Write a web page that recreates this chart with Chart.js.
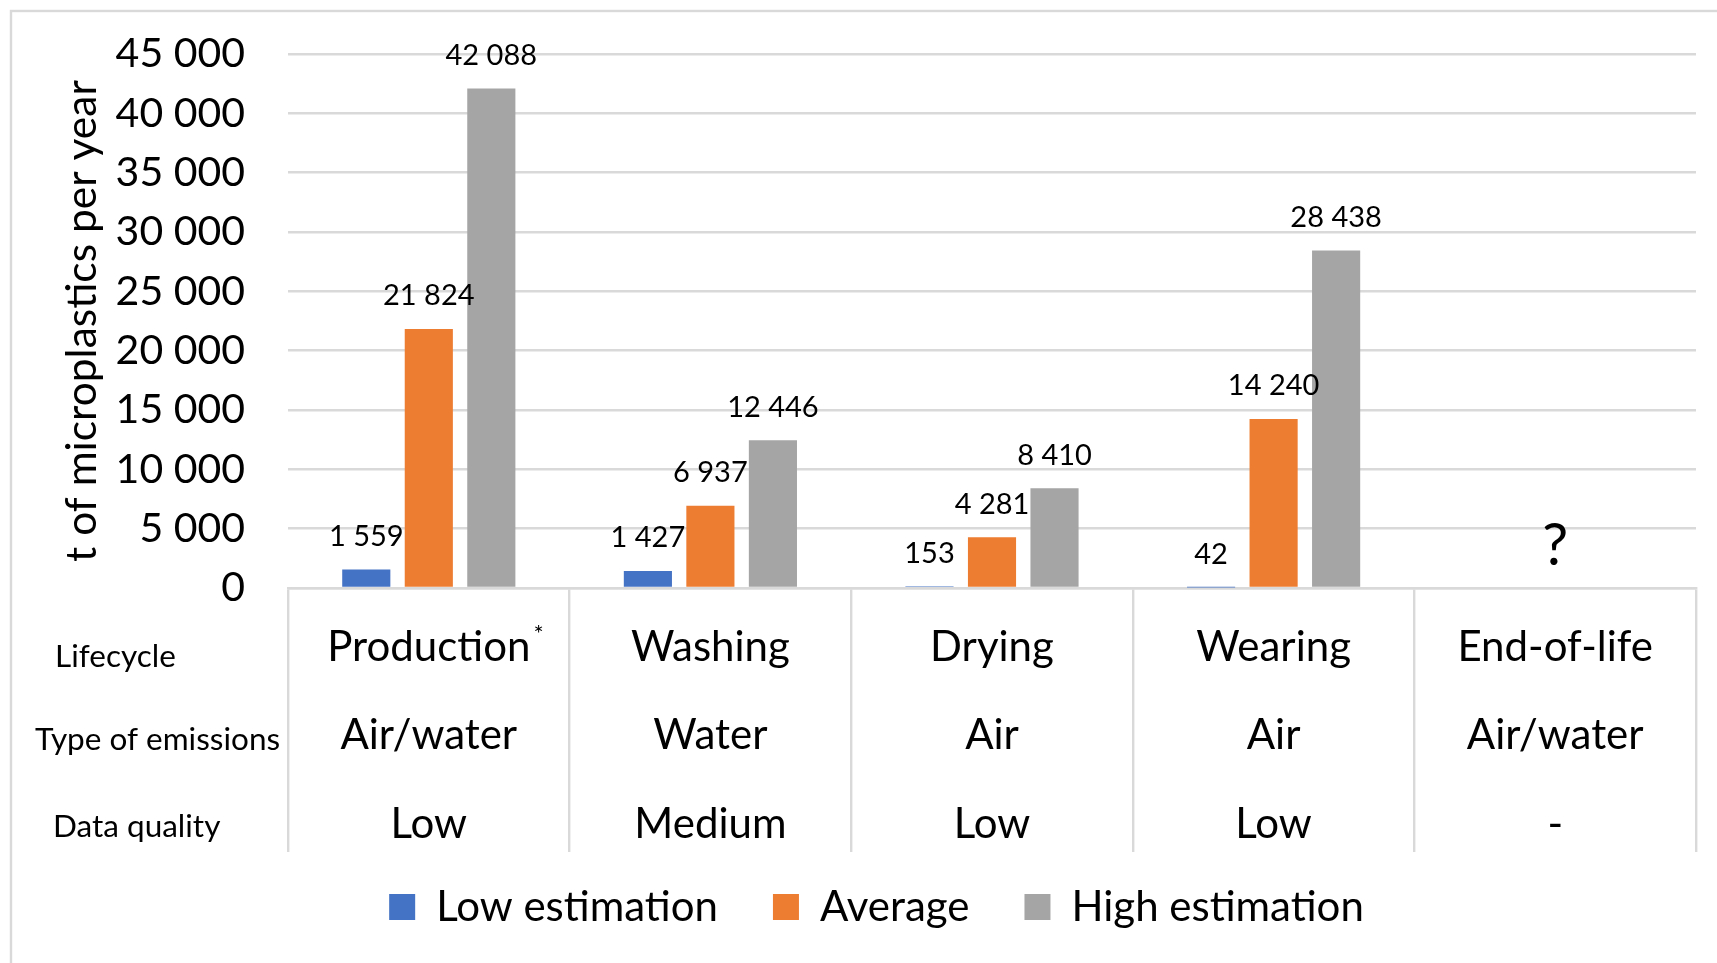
<!DOCTYPE html>
<html>
<head>
<meta charset="utf-8">
<script src="https://cdn.jsdelivr.net/npm/chart.js@4/dist/chart.umd.min.js"></script>
<style>
  html, body { margin: 0; padding: 0; background: #ffffff; }
  #wrap { width: 1717px; height: 963px; position: relative; }
</style>
</head>
<body>
<div id="wrap"><canvas id="chart" width="1717" height="963"></canvas></div>
<script>
// Lifecycle stages and their table rows
const lifecycle = ['Production', 'Washing', 'Drying', 'Wearing', 'End-of-life'];
const emissionType = ['Air/water', 'Water', 'Air', 'Air', 'Air/water'];
const dataQuality = ['Low', 'Medium', 'Low', 'Low', '-'];
const rowHeaders = ['Lifecycle', 'Type of emissions', 'Data quality'];
const footnoted = ['Production'];

// Emissions, t of microplastics per year (null = unknown)
const lowEstimation = [1559, 1427, 153, 42, null];
const average = [21824, 6937, 4281, 14240, null];
const highEstimation = [42088, 12446, 8410, 28438, null];

const seriesNames = ['Low estimation', 'Average', 'High estimation'];
const yTicks = [0, 5000, 10000, 15000, 20000, 25000, 30000, 35000, 40000, 45000];

const FONT = 'Lato, "Open Sans", sans-serif';
const GRID = '#d9d9d9';
const TABLE_DEPTH = 264;   // height of the category table under the axis
const ROW_STEP = 88.3;     // spacing of table rows
const LABEL_SIZE = 42;

const fmt = v => String(v).replace(/\B(?=(\d{3})+(?!\d))/g, ' ');

// light frame around the whole figure
const framePlugin = {
  id: 'frame',
  beforeDraw(chart) {
    const ctx = chart.ctx;
    ctx.save();
    ctx.fillStyle = '#ffffff';
    ctx.fillRect(0, 0, chart.width, chart.height);
    ctx.strokeStyle = GRID;
    ctx.lineWidth = 2.4;
    ctx.strokeRect(11, 11, chart.width + 20, chart.height + 20);
    ctx.restore();
  }
};

// pull the legend row up closer to the table
const legendNudge = {
  id: 'legendNudge',
  afterLayout(chart) {
    if (chart.legend) {
      chart.legend.top -= 15;
      chart.legend.bottom -= 15;
    }
  }
};

// value labels above bars, and "?" where a stage has no data
const valueLabels = {
  id: 'valueLabels',
  afterDatasetsDraw(chart) {
    const ctx = chart.ctx;
    const yScale = chart.scales.y;
    const xScale = chart.scales.x;
    ctx.save();
    ctx.fillStyle = '#000';
    ctx.textAlign = 'center';
    ctx.textBaseline = 'middle';
    chart.data.datasets.forEach((ds, di) => {
      const meta = chart.getDatasetMeta(di);
      ctx.font = '29px ' + FONT;
      meta.data.forEach((bar, i) => {
        const v = ds.data[i];
        if (v === null || v === undefined) return;
        ctx.fillText(fmt(v), bar.x, bar.y - 33);
      });
    });
    chart.data.labels.forEach((lab, i) => {
      const allMissing = chart.data.datasets.every(ds => ds.data[i] === null);
      if (!allMissing) return;
      ctx.font = '58px ' + FONT;
      ctx.fillText('?', xScale.getPixelForValue(i), yScale.getPixelForValue(0) - 42);
    });
    ctx.restore();
  }
};

// row headers to the left of the category table, and footnote marks
const tableExtras = {
  id: 'tableExtras',
  afterDraw(chart) {
    const ctx = chart.ctx;
    const xScale = chart.scales.x;
    const firstRow = xScale.top + 15.3 + ROW_STEP / 2;
    ctx.save();
    ctx.fillStyle = '#000';
    ctx.textBaseline = 'middle';
    ctx.textAlign = 'left';
    ctx.font = '31.5px ' + FONT;
    const headerX = [55, 35, 53];
    const headerDy = [9, 4, 3];
    rowHeaders.forEach((h, r) => {
      ctx.fillText(h, headerX[r], firstRow + r * ROW_STEP + headerDy[r]);
    });
    chart.data.labels.forEach((lab, i) => {
      const name = Array.isArray(lab) ? lab[0] : lab;
      if (!footnoted.includes(name)) return;
      ctx.font = LABEL_SIZE + 'px ' + FONT;
      const w = ctx.measureText(name).width;
      ctx.font = '24px ' + FONT;
      ctx.fillText('*', xScale.getPixelForValue(i) + w / 2 + 3, firstRow - 13);
    });
    ctx.restore();
  }
};

const colors = ['#4472C4', '#ED7D31', '#A5A5A5'];
const values = [lowEstimation, average, highEstimation];

new Chart(document.getElementById('chart'), {
  type: 'bar',
  data: {
    labels: lifecycle.map((s, i) => [s, emissionType[i], dataQuality[i]]),
    datasets: seriesNames.map((name, k) => ({
      label: name,
      data: values[k],
      backgroundColor: colors[k],
      borderWidth: 0,
      categoryPercentage: 0.666,
      barPercentage: 0.77
    }))
  },
  options: {
    responsive: false,
    animation: false,
    devicePixelRatio: 1,
    layout: { padding: { left: 57, right: 21, top: 54, bottom: 10 } },
    plugins: {
      tooltip: { enabled: false },
      legend: {
        position: 'bottom',
        labels: {
          color: '#000',
          font: { family: FONT, size: LABEL_SIZE },
          boxWidth: 26,
          boxHeight: 26,
          padding: 55
        }
      }
    },
    scales: {
      x: {
        grid: {
          offset: true,
          drawOnChartArea: false,
          drawTicks: true,
          tickLength: TABLE_DEPTH,
          color: GRID,
          lineWidth: 2.4
        },
        border: { display: true, color: GRID, width: 2.4 },
        ticks: {
          color: '#000',
          font: { family: FONT, size: LABEL_SIZE, lineHeight: ROW_STEP / LABEL_SIZE },
          padding: 15.3 - TABLE_DEPTH,
          maxRotation: 0,
          autoSkip: false
        },
        afterFit(scale) { scale.height = 258; }
      },
      y: {
        min: 0,
        max: 45000,
        afterBuildTicks(scale) { scale.ticks = yTicks.map(v => ({ value: v })); },
        grid: { color: GRID, lineWidth: 2.4, drawTicks: false },
        border: { display: false },
        ticks: {
          color: '#000',
          font: { family: FONT, size: 41, lineHeight: 0.5 },
          padding: 43,
          callback: v => fmt(v)
        },
        title: {
          display: true,
          text: 't of microplastics per year',
          color: '#000',
          font: { family: FONT, size: 42.5 },
          padding: { top: 0, bottom: 0 }
        },
        afterFit(scale) { scale.width = 288 - 57; }
      }
    }
  },
  plugins: [framePlugin, legendNudge, valueLabels, tableExtras]
});
</script>
</body>
</html>
